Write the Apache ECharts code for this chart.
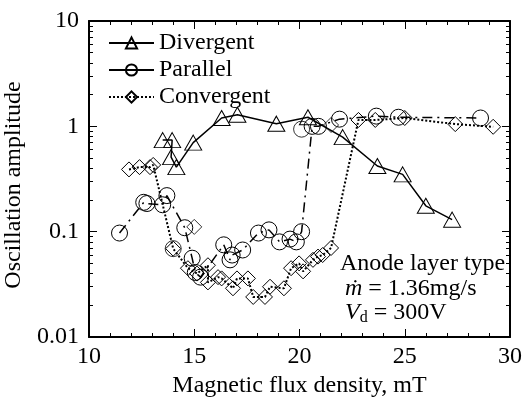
<!DOCTYPE html>
<html lang="en">
<head>
    <meta charset="UTF-8">
    <title>Oscillation amplitude</title>
    <script src="https://cdn.jsdelivr.net/npm/echarts@6/dist/echarts.min.js"></script>
    <style>
        body { margin: 0; padding: 0; background: #fff; }
        #chart { width: 526px; height: 408px; }
    </style>
</head>
<body>
<div id="chart"></div>
<script>
    // Divergent (triangles, solid line)
    var divX = [13.5, 13.95, 13.9, 14.15, 14.95, 16.3, 17.05, 18.9, 20.4, 22.05, 23.7, 24.9, 26.0, 27.25];
    var divY = [0.74, 0.74, 0.51, 0.41, 0.70, 1.2, 1.29, 1.06, 1.22, 0.79, 0.42, 0.35, 0.176, 0.13];

    // Parallel (circles, dash-dot line)
    var parX = [11.45, 12.6, 12.75, 13.5, 13.7, 14.55, 14.9, 15.05, 15.3, 16.4, 16.7, 16.8, 17.3, 18.05, 18.55, 19.05, 19.55, 19.85, 20.1, 20.6, 20.9, 21.9, 23.65, 24.7, 28.6];
    var parY = [0.097, 0.19, 0.185, 0.18, 0.22, 0.109, 0.056, 0.041, 0.037, 0.075, 0.054, 0.06, 0.067, 0.097, 0.104, 0.08, 0.085, 0.08, 0.1, 1.0, 1.0, 1.17, 1.25, 1.22, 1.2];
    var parExtraX = [14.0, 20.1];
    var parExtraY = [0.069, 0.94];

    // Convergent (diamonds, dotted line)
    var convX = [11.9, 12.4, 12.9, 13.05, 14.0, 14.7, 15.13, 15.65, 15.65, 16.13, 16.3, 16.84, 17.03, 17.55, 17.8, 18.36, 18.6, 19.26, 19.6, 19.98, 20.17, 20.64, 20.88, 21.1, 21.5, 22.8, 23.6, 25.0, 27.4, 29.2];
    var convY = [0.39, 0.41, 0.41, 0.43, 0.069, 0.045, 0.040, 0.048, 0.033, 0.037, 0.036, 0.029, 0.036, 0.036, 0.024, 0.024, 0.030, 0.029, 0.045, 0.050, 0.042, 0.054, 0.058, 0.060, 0.070, 1.15, 1.15, 1.2, 1.05, 0.99];
    var convExtraX = [15.0, 21.5];
    var convExtraY = [0.111, 1.03];

    // log axis minor tick positions
    var minorTicksY = [0.02, 0.03, 0.04, 0.05, 0.06, 0.07, 0.08, 0.09,
                       0.2, 0.3, 0.4, 0.5, 0.6, 0.7, 0.8, 0.9,
                       2, 3, 4, 5, 6, 7, 8, 9];

    function pairs(xs, ys) {
        return xs.map(function (x, i) { return [x, ys[i]]; });
    }

    var font = 'Liberation Serif';
    var fs = 24;
    var chart = echarts.init(document.getElementById('chart'));

    var markerStyle = { color: 'rgba(0,0,0,0)', borderColor: '#000', borderWidth: 1 };

    function yAxisDef(pos, showLabel, ticks, len) {
        var ax = {
            type: 'log',
            min: 0.01,
            max: 10,
            position: pos,
            axisLine: { show: true, lineStyle: { color: '#000', width: 2 } },
            axisTick: { show: true, inside: true, length: len, lineStyle: { color: '#000', width: 1 } },
            axisLabel: { show: showLabel, color: '#000', fontFamily: font, fontSize: fs, margin: 10 },
            splitLine: { show: false }
        };
        if (ticks) {
            ax.axisTick.customValues = ticks;
            ax.axisLine.show = false;
        }
        return ax;
    }

    var option = {
        animation: false,
        backgroundColor: '#fff',
        grid: { left: 89, right: 16, top: 21, bottom: 71, outerBoundsMode: 'none', containLabel: false },
        legend: {
            orient: 'vertical',
            left: 103,
            top: 26,
            itemWidth: 45,
            itemHeight: 14,
            itemGap: 3,
            textStyle: { color: '#000', fontFamily: font, fontSize: fs },
            data: [
                { name: 'Divergent' },
                { name: 'Parallel', lineStyle: { type: 'solid' } },
                { name: 'Convergent' }
            ]
        },
        xAxis: [
            {
                type: 'value',
                min: 10,
                max: 30,
                interval: 5,
                position: 'bottom',
                name: 'Magnetic flux density, mT',
                nameLocation: 'middle',
                nameGap: 37,
                nameTextStyle: { color: '#000', fontFamily: font, fontSize: fs },
                axisLine: { lineStyle: { color: '#000', width: 2 } },
                axisTick: { inside: true, length: 8, lineStyle: { color: '#000' } },
                minorTick: { show: true, splitNumber: 5, length: 4, lineStyle: { color: '#000' } },
                axisLabel: { color: '#000', fontFamily: font, fontSize: fs, margin: 8 },
                splitLine: { show: false }
            },
            {
                type: 'value',
                min: 10,
                max: 30,
                interval: 5,
                position: 'top',
                axisLine: { lineStyle: { color: '#000', width: 2 } },
                axisTick: { inside: true, length: 8, lineStyle: { color: '#000' } },
                minorTick: { show: true, splitNumber: 5, length: 4, lineStyle: { color: '#000' } },
                axisLabel: { show: false },
                splitLine: { show: false }
            }
        ],
        yAxis: [
            Object.assign(yAxisDef('left', true, null, 8), {
                name: 'Oscillation amplitude',
                nameLocation: 'middle',
                nameGap: 58,
                nameTextStyle: { color: '#000', fontFamily: font, fontSize: fs, padding: [0, 12, 0, 0] }
            }),
            yAxisDef('left', false, minorTicksY, 4),
            yAxisDef('right', false, null, 8),
            yAxisDef('right', false, minorTicksY, 4)
        ],
        graphic: [
            {
                type: 'text', left: 340, top: 252,
                style: { text: 'Anode layer type', fill: '#000', font: '24px "Liberation Serif"' }
            },
            {
                type: 'text', left: 345, top: 277,
                style: {
                    text: '{i|ṁ} = 1.36mg/s',
                    fill: '#000',
                    font: '24px "Liberation Serif"',
                    rich: { i: { fontFamily: font, fontSize: fs, fontStyle: 'italic' } }
                }
            },
            {
                type: 'text', left: 345, top: 301,
                style: {
                    text: '{i|V}{s|d} = 300V',
                    fill: '#000',
                    font: '24px "Liberation Serif"',
                    rich: {
                        i: { fontFamily: font, fontSize: fs, fontStyle: 'italic' },
                        s: { fontFamily: font, fontSize: 16, padding: [10, 0, 0, 0] }
                    }
                }
            }
        ],
        series: [
            {
                name: 'Divergent',
                type: 'line',
                data: pairs(divX, divY),
                symbol: 'triangle',
                symbolSize: [17, 15],
                itemStyle: markerStyle,
                lineStyle: { color: '#000', width: 1.5, type: 'solid' }
            },
            {
                name: 'Parallel',
                type: 'line',
                data: pairs(parX, parY),
                symbol: 'circle',
                symbolSize: 16,
                itemStyle: markerStyle,
                lineStyle: { color: '#000', width: 1.5, type: [10, 5, 2, 5] }
            },
            {
                name: 'Parallel extra',
                type: 'scatter',
                data: pairs(parExtraX, parExtraY),
                symbol: 'circle',
                symbolSize: 16,
                itemStyle: markerStyle
            },
            {
                name: 'Convergent',
                type: 'line',
                data: pairs(convX, convY),
                symbol: 'diamond',
                symbolSize: 15,
                itemStyle: markerStyle,
                lineStyle: { color: '#000', width: 2, type: [2, 2] }
            },
            {
                name: 'Convergent extra',
                type: 'scatter',
                data: pairs(convExtraX, convExtraY),
                symbol: 'diamond',
                symbolSize: 15,
                itemStyle: markerStyle
            }
        ]
    };

    chart.setOption(option);
</script>
</body>
</html>
